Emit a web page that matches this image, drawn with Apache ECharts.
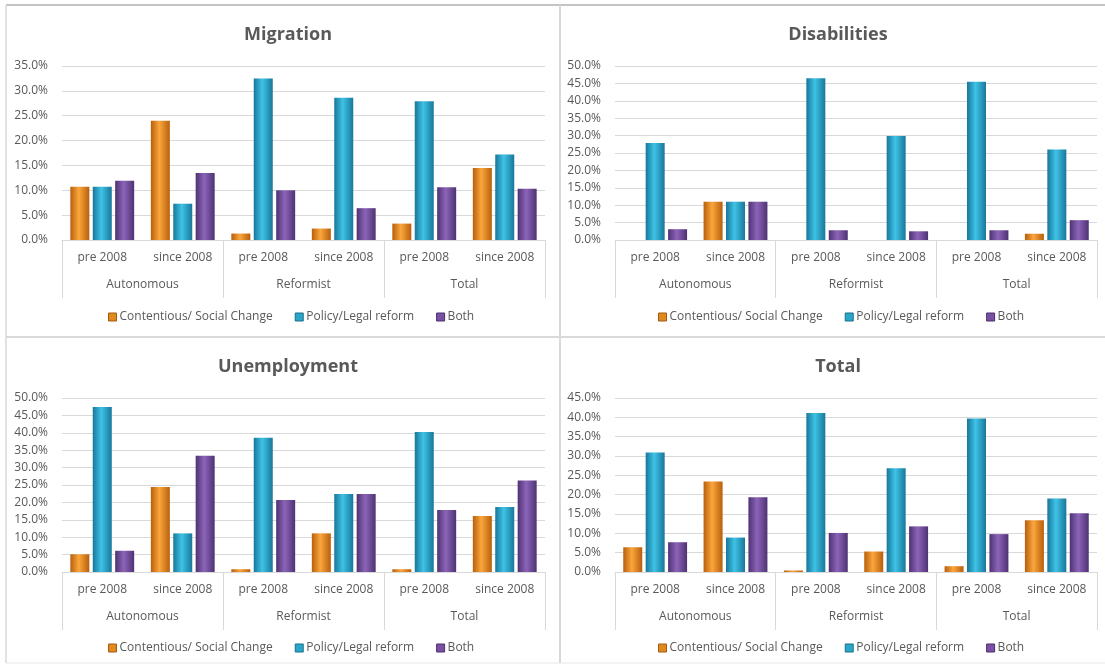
<!DOCTYPE html>
<html>
<head>
<meta charset="utf-8">
<script src="https://cdn.jsdelivr.net/npm/echarts@6/dist/echarts.min.js"></script>
<style>
html,body{margin:0;padding:0;background:#fff;}
#c{width:1105px;height:668px;}
</style>
</head>
<body>
<div id="c"></div>
<script>
// ---- data ----
const groups = ['Autonomous', 'Reformist', 'Total'];
const periods = ['pre 2008', 'since 2008', 'pre 2008', 'since 2008', 'pre 2008', 'since 2008'];
const seriesNames = ['Contentious/ Social Change', 'Policy/Legal reform', 'Both'];
const panelTitles = ['Migration', 'Disabilities', 'Unemployment', 'Total'];
const yMax = [35, 50, 50, 45];

const migrationContentious = [10.7, 24.0, 1.3, 2.3, 3.3, 14.5];
const migrationPolicy      = [10.7, 7.3, 32.5, 28.6, 27.9, 17.2];
const migrationBoth        = [11.9, 13.5, 10.0, 6.4, 10.6, 10.3];

const disabilitiesContentious = [0, 11.0, 0, 0, 0, 1.8];
const disabilitiesPolicy      = [27.9, 11.0, 46.5, 29.9, 45.5, 26.0];
const disabilitiesBoth        = [3.1, 11.0, 2.8, 2.5, 2.8, 5.7];

const unemploymentContentious = [5.1, 24.4, 0.8, 11.1, 0.8, 16.1];
const unemploymentPolicy      = [47.4, 11.1, 38.6, 22.4, 40.2, 18.7];
const unemploymentBoth        = [6.1, 33.4, 20.7, 22.4, 17.8, 26.3];

const totalContentious = [6.4, 23.4, 0.4, 5.3, 1.5, 13.4];
const totalPolicy      = [30.9, 8.9, 41.1, 26.8, 39.7, 19.0];
const totalBoth        = [7.7, 19.3, 10.1, 11.8, 9.8, 15.2];

const panelData = [
  [migrationContentious, migrationPolicy, migrationBoth],
  [disabilitiesContentious, disabilitiesPolicy, disabilitiesBoth],
  [unemploymentContentious, unemploymentPolicy, unemploymentBoth],
  [totalContentious, totalPolicy, totalBoth]
];

// ---- styling / layout ----
const FONT = 'Open Sans';
const TXT = '#595959';
const GRID_C = '#D9D9D9';
const layouts = [
  {left: 62, top: 66, width: 483, height: 174, cx: 283, ty: 21, ly: 309},
  {left: 615, top: 66, width: 482, height: 174, cx: 833, ty: 21, ly: 309},
  {left: 62, top: 398, width: 483, height: 174, cx: 283, ty: 353, ly: 640},
  {left: 615, top: 398, width: 482, height: 174, cx: 833, ty: 353, ly: 640}
];
function grad(dark, light) {
  return new echarts.graphic.LinearGradient(0, 0, 1, 0, [
    {offset: 0, color: dark}, {offset: 0.45, color: light}, {offset: 1, color: dark}
  ]);
}
const barColors = [
  grad('#B85F0C', '#FBA63C'),
  grad('#18779A', '#3EC3E6'),
  grad('#4E3273', '#8C64B8')
];
const legendColors = ['#E08A1E', '#2BA6C9', '#7950A3'];
const borderColors = ['#A35A12', '#1A6F8A', '#4A2F6C'];

const option = {
  animation: false,
  backgroundColor: '#ffffff',
  title: [], legend: [], grid: [], xAxis: [], yAxis: [], series: [],
  graphic: [
    {type: 'line', shape: {x1: 6, y1: 5, x2: 1105, y2: 5}, style: {stroke: '#B0B0B0', lineWidth: 1.5}},
    {type: 'line', shape: {x1: 6, y1: 5, x2: 6, y2: 663}, style: {stroke: '#D9D9D9', lineWidth: 1.5}},
    {type: 'line', shape: {x1: 6, y1: 337, x2: 1105, y2: 337}, style: {stroke: '#D9D9D9', lineWidth: 2}},
    {type: 'line', shape: {x1: 560, y1: 5, x2: 560, y2: 663}, style: {stroke: '#D9D9D9', lineWidth: 2}},
    {type: 'line', shape: {x1: 6, y1: 663, x2: 1105, y2: 663}, style: {stroke: '#E6E6E6', lineWidth: 1}}
  ]
};

layouts.forEach((L, p) => {
  option.title.push({
    text: panelTitles[p], left: L.cx, top: L.ty, textAlign: 'center',
    textStyle: {fontFamily: FONT, fontSize: 18, fontWeight: 'bold', color: TXT}
  });
  option.legend.push({
    data: seriesNames.map((n, i) => ({name: n, itemStyle: {color: legendColors[i], borderColor: borderColors[i], borderWidth: 1}})),
    left: L.cx - 180, top: L.ly - 3,
    itemWidth: 8, itemHeight: 8, itemGap: 22,
    icon: 'rect',
    textStyle: {fontFamily: FONT, fontSize: 12, color: TXT, padding: [0, 0, 0, -2]}
  });
  option.grid.push({left: L.left, top: L.top, width: L.width, height: L.height, containLabel: false});
  option.yAxis.push({
    type: 'value', gridIndex: p, min: 0, max: yMax[p], interval: 5,
    axisLine: {show: false}, axisTick: {show: false},
    splitLine: {lineStyle: {color: GRID_C, width: 1}},
    axisLabel: {fontFamily: FONT, fontSize: 12, color: TXT, margin: 14, formatter: v => v.toFixed(1) + '%'}
  });
  option.xAxis.push({
    type: 'category', gridIndex: p, data: periods, position: 'bottom',
    axisLine: {lineStyle: {color: GRID_C}}, axisTick: {show: false},
    axisLabel: {fontFamily: FONT, fontSize: 12, color: TXT, margin: 12, interval: 0}
  });
  option.xAxis.push({
    type: 'category', gridIndex: p, data: groups, position: 'bottom',
    axisLine: {show: false},
    axisTick: {show: true, length: 58, interval: 0, lineStyle: {color: GRID_C}},
    axisLabel: {fontFamily: FONT, fontSize: 12, color: TXT, margin: 39, interval: 0}
  });
  seriesNames.forEach((n, i) => {
    option.series.push({
      type: 'bar', name: n, xAxisIndex: p * 2, yAxisIndex: p,
      data: panelData[p][i],
      barWidth: 19, barGap: '18%',
      itemStyle: {color: barColors[i], borderWidth: 0}
    });
  });
});

const chart = echarts.init(document.getElementById('c'), null, {renderer: 'canvas'});
chart.setOption(option);
</script>
</body>
</html>
